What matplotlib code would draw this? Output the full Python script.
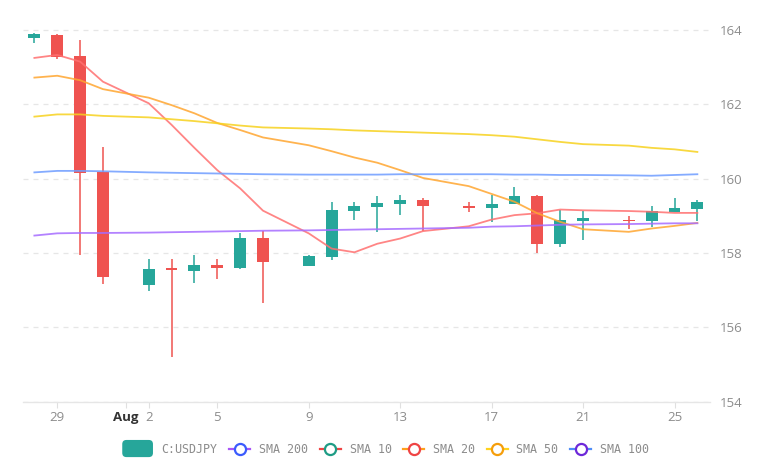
import matplotlib
matplotlib.use("agg")
import matplotlib.pyplot as plt
import matplotlib.dates as mdates
from matplotlib.lines import Line2D
from matplotlib.patches import FancyBboxPatch, Patch
from matplotlib.legend_handler import HandlerBase
from datetime import datetime

# candle days (gaps are in the source data)
days = ['2024-07-28', '2024-07-29', '2024-07-30', '2024-07-31', '2024-08-02', '2024-08-03',
        '2024-08-04', '2024-08-05', '2024-08-06', '2024-08-07', '2024-08-09', '2024-08-10',
        '2024-08-11', '2024-08-12', '2024-08-13', '2024-08-14', '2024-08-16', '2024-08-17',
        '2024-08-18', '2024-08-19', '2024-08-20', '2024-08-21', '2024-08-23', '2024-08-24',
        '2024-08-25', '2024-08-26']

opens = [163.78, 163.87, 163.30, 160.18, 157.13, 157.57, 157.52, 157.69, 157.59, 158.41,
         157.65, 157.88, 159.13, 159.24, 159.31, 159.42, 159.27, 159.20, 159.32, 159.54,
         158.24, 158.86, 158.89, 158.87, 159.11, 159.18]
highs = [163.93, 163.88, 163.73, 160.86, 157.85, 157.85, 157.94, 157.85, 158.55, 158.60,
         157.94, 159.36, 159.38, 159.53, 159.56, 159.49, 159.38, 159.56, 159.77, 159.55,
         159.17, 159.14, 158.99, 159.27, 159.49, 159.44]
lows = [163.64, 163.21, 157.94, 157.18, 156.98, 155.21, 157.20, 157.29, 157.58, 156.66,
        157.64, 157.81, 158.90, 158.57, 159.02, 158.59, 159.11, 158.84, 159.31, 157.99,
        158.15, 158.35, 158.66, 158.69, 159.10, 158.87]
closes = [163.88, 163.28, 160.16, 157.36, 157.57, 157.54, 157.69, 157.59, 158.41, 157.76,
          157.92, 159.15, 159.26, 159.35, 159.42, 159.27, 159.20, 159.32, 159.54, 158.24,
          158.89, 158.93, 158.85, 159.14, 159.20, 159.36]

sma10 = [163.25, 163.33, 163.15, 162.61, 162.03, 161.45, 160.83, 160.23, 159.74, 159.14,
         158.53, 158.12, 158.02, 158.25, 158.39, 158.59, 158.72, 158.90, 159.02, 159.07,
         159.17, 159.15, 159.13, 159.11, 159.08, 159.08]
sma20 = [162.72, 162.77, 162.65, 162.41, 162.18, 161.98, 161.76, 161.50, 161.31, 161.11,
         160.90, 160.74, 160.57, 160.43, 160.23, 160.02, 159.80, 159.59, 159.38, 159.07,
         158.84, 158.64, 158.57, 158.66, 158.73, 158.81]
sma50 = [161.67, 161.73, 161.73, 161.69, 161.65, 161.60, 161.55, 161.49, 161.43, 161.38,
         161.35, 161.33, 161.30, 161.28, 161.26, 161.24, 161.20, 161.17, 161.13, 161.06,
         160.99, 160.93, 160.89, 160.83, 160.79, 160.72]
sma100 = [160.17, 160.21, 160.21, 160.20, 160.17, 160.16, 160.15, 160.14, 160.13, 160.12,
          160.11, 160.11, 160.11, 160.11, 160.12, 160.12, 160.12, 160.12, 160.11, 160.11,
          160.10, 160.10, 160.09, 160.08, 160.10, 160.12]
sma200 = [158.47, 158.53, 158.54, 158.54, 158.55, 158.56, 158.57, 158.58, 158.59, 158.60,
          158.61, 158.62, 158.63, 158.64, 158.65, 158.66, 158.68, 158.71, 158.72, 158.74,
          158.76, 158.77, 158.78, 158.79, 158.80, 158.80]

tick_days = ['2024-07-29', '2024-08-01', '2024-08-02', '2024-08-05', '2024-08-09',
             '2024-08-13', '2024-08-17', '2024-08-21', '2024-08-25']
tick_labels = ['29', 'Aug', '2', '5', '9', '13', '17', '21', '25']
y_ticks = [154, 156, 158, 160, 162, 164]

UP = '#26a69a'
DOWN = '#ef5350'


class SwatchHandler(HandlerBase):
    # wider, taller rounded swatch than the default legend patch
    def create_artists(self, legend, orig_handle, xdescent, ydescent,
                       width, height, fontsize, trans):
        h = height * 2.1
        extra = 7
        p = FancyBboxPatch((-xdescent - extra, -ydescent + height / 2 - h / 2), width + extra, h,
                           boxstyle='round,pad=0,rounding_size=3',
                           fc=orig_handle.get_facecolor(), ec='none', transform=trans)
        return [p]


def main(plot_filename='out.png'):
    x = mdates.date2num([datetime.strptime(d, '%Y-%m-%d') for d in days])

    fig = plt.figure(figsize=(7.7, 4.63), dpi=100)
    ax = fig.add_axes([0.0295, 0.1324, 0.8925, 0.8244])

    colors = [UP if c >= o else DOWN for o, c in zip(opens, closes)]
    ax.vlines(x, lows, highs, colors=colors, linewidth=1.1, zorder=2)
    bottoms = [min(o, c) for o, c in zip(opens, closes)]
    heights = [max(abs(c - o), 0.05) for o, c in zip(opens, closes)]
    ax.bar(x, heights, bottom=bottoms, width=0.52, color=colors, linewidth=0, zorder=3)

    # moving averages
    ax.plot(x, sma10, color='#ff7070', lw=1.3, alpha=0.85, zorder=4)
    ax.plot(x, sma20, color='#ffa630', lw=1.3, alpha=0.85, zorder=4)
    ax.plot(x, sma50, color='#f7d21e', lw=1.3, alpha=0.85, zorder=4)
    ax.plot(x, sma100, color='#6f9dff', lw=1.3, alpha=0.85, zorder=4)
    ax.plot(x, sma200, color='#a66cff', lw=1.3, alpha=0.85, zorder=4)

    ax.set_ylim(154, 164.27)
    ax.set_xlim(x[0] - 0.51, x[-1] + 0.55)

    ax.set_yticks(y_ticks)
    ax.yaxis.tick_right()
    ax.tick_params(axis='y', length=0, pad=7, labelcolor='#8c8c8c', labelsize=9.5)
    for lab in ax.get_yticklabels():
        lab.set_fontfamily('Open Sans')

    ax.set_xticks(mdates.date2num([datetime.strptime(d, '%Y-%m-%d') for d in tick_days]))
    ax.set_xticklabels(tick_labels)
    ax.tick_params(axis='x', length=4, width=0.8, color='#e0e0e0', pad=3,
                   labelcolor='#8c8c8c', labelsize=9.5)
    for lab in ax.get_xticklabels():
        lab.set_fontfamily('Open Sans')
        if lab.get_text() == 'Aug':
            lab.set_fontweight('bold')
            lab.set_color('#333333')

    ax.grid(axis='y', color='#e6e6e6', linestyle=(0, (4, 4)), linewidth=0.9)
    ax.set_axisbelow(True)
    for s in ['top', 'right', 'left']:
        ax.spines[s].set_visible(False)
    ax.spines['bottom'].set_color('#e6e6e6')
    ax.spines['bottom'].set_linewidth(1.0)

    # legend: line colour and ring colour differ in the source
    def ring(line_c, ring_c, label):
        return Line2D([0], [0], color=line_c, lw=1.6, marker='o', markersize=8,
                      markerfacecolor='white', markeredgecolor=ring_c,
                      markeredgewidth=1.6, label=label)

    handles = [Patch(facecolor=UP, label='C:USDJPY'),
               ring('#a855f7', '#3b5bfd', 'SMA 200'),
               ring('#ef4444', '#1e9c85', 'SMA 10'),
               ring('#ff9f1c', '#ef4444', 'SMA 20'),
               ring('#ffd21e', '#f59e0b', 'SMA 50'),
               ring('#4f8df7', '#6d28d9', 'SMA 100')]
    leg = fig.legend(handles=handles, loc='center', bbox_to_anchor=(0.507, 0.03),
                     ncol=6, frameon=False, handlelength=1.8, handletextpad=0.75,
                     columnspacing=1.0, handler_map={Patch: SwatchHandler()},
                     prop={'family': 'DejaVu Sans Mono', 'size': 8.4})
    for t in leg.get_texts():
        t.set_color('#8c8c8c')

    plt.savefig(plot_filename, dpi=100)
    plt.clf()


if __name__ == "__main__":
    main()
